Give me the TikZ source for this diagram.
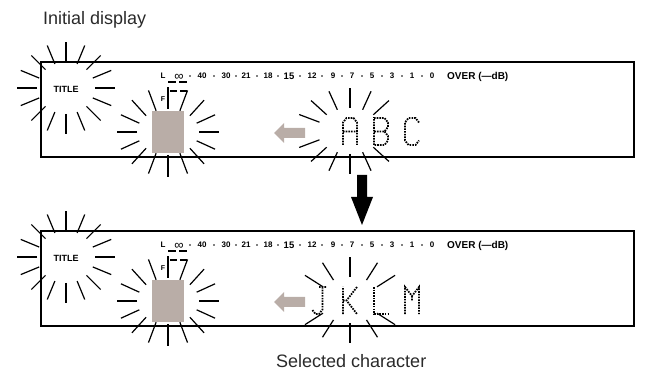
\documentclass[tikz,border=0pt]{standalone}
\usepackage{xcolor}
\usepackage{fontspec}
\setmainfont{Liberation Sans}
\usepackage{tikz}
\definecolor{lcdgrey}{HTML}{B9ADA7}
\definecolor{captiongrey}{HTML}{2A2A2A}

\begin{document}
\begin{tikzpicture}[x=1pt,y=-1pt,
	ray/.style={line width=1.2pt},
	lcdbox/.style={line width=1.5pt},
	dotmatrix/.style={line width=1.8pt,dash pattern=on 1.6pt off 1.1pt},
	scalelbl/.style={font=\bfseries\fontsize{8}{9}\selectfont,inner sep=0pt,anchor=base},
	caption/.style={font=\fontsize{18}{20}\selectfont,text=captiongrey,inner sep=0pt,anchor=base west}]
	 \useasboundingbox (0,0) rectangle (651,374);
	 \node[caption](initial)at(43,25){Initial display};
	 \node[caption](selected)at(276,367){Selected character};
	 % the two display panels
	 \foreach \p/\dy/\angs in {a/0/{45,67.5,90,112.5,135,157.5,-45,-67.5,-90,-112.5,-135,-157.5},
	                          b/169/{35,60,90,120,145,-35,-60,-90,-120,-145}}{
	 \begin{scope}[shift={(0,\dy)}]
	 \draw[lcdbox](41,62)rectangle(634,157);
	 \node[font=\bfseries\fontsize{9}{10}\selectfont,inner sep=0pt](title\p)at(66,89){TITLE};
	 \foreach \a in {0,22.5,...,337.5}
	   \draw[ray]([shift={(\a:29 and 26)}]66,88)--([shift={(\a:49 and 46)}]66,88);
	 % level scale
	 \node[scalelbl](lch\p)at(163,79){L};
	 \node[font=\fontsize{13}{13}\selectfont,inner sep=0pt](inf\p)at(179,77){∞};
	 \foreach \x/\t in {202/40,226/30,246/21,268/18,312/12,333/9,352/7,372/5,392/3,412/1,432/0}
	   \node[scalelbl](db\t\p)at(\x,79){\t};
	 \node[scalelbl,font=\bfseries\fontsize{9.5}{10}\selectfont](db15\p)at(289,79.3){15};
	 \node[scalelbl,font=\bfseries\fontsize{10}{11}\selectfont,anchor=base west](over\p)at(447,79.5){OVER (—dB)};
	 \foreach \x in {190,214,236,257,278,300,322,342,362,382,402,422}
	   \fill(\x,76)circle(.9);
	 \draw[line width=2pt](168,82)--(176,82)(179,82)--(187,82);
	 \draw[line width=2pt](170,91)--(177,91)(180,91)--(187,91);
	 \node[font=\bfseries\fontsize{7}{7}\selectfont,inner sep=0pt](flag\p)at(163,99){F};
	 % cursor block
	 \fill[lcdgrey](152,111)rectangle(184,153);
	 \foreach \a in {0,22.5,...,337.5}
	   \draw[ray]([shift={(\a:31 and 23)}]168,132)--([shift={(\a:51 and 45)}]168,132);
	 \fill[lcdgrey](274,133)--(284,123)--(284,128)--(305,128)--(305,138)--(284,138)--(284,143)--cycle;
	 % selected character
	 \foreach \a in \angs
	   \draw[ray]([shift={(\a:33 and 23)}]350,131)--([shift={(\a:55 and 43)}]350,131);
	 \end{scope}}
	 % characters
	 \begin{scope}[shift={(343,145)},x=3.5pt,y=4.5pt]
	 \draw[dotmatrix](0,0)--(0,5)--(1,6)--(3,6)--(4,5)--(4,0)(0,3)--(4,3);
	 \end{scope}
	 \begin{scope}[shift={(374,145)},x=3.5pt,y=4.5pt]
	 \draw[dotmatrix](0,0)--(0,6)--(3,6)--(4,5)--(4,4)--(3,3)--(0,3)(3,3)--(4,2)--(4,1)--(3,0)--(0,0);
	 \end{scope}
	 \begin{scope}[shift={(405,145)},x=3.5pt,y=4.5pt]
	 \draw[dotmatrix](4,5)--(3,6)--(1,6)--(0,5)--(0,1)--(1,0)--(3,0)--(4,1);
	 \end{scope}
	 \begin{scope}[shift={(312,314)},x=3.5pt,y=4.5pt]
	 \draw[dotmatrix](2,6)--(4,6)(3,6)--(3,1)--(2,0)--(1,0)--(0,1);
	 \end{scope}
	 \begin{scope}[shift={(343,314)},x=3.5pt,y=4.5pt]
	 \draw[dotmatrix](0,0)--(0,6)(4,6)--(1,3)--(4,0)(0,3)--(1,3);
	 \end{scope}
	 \begin{scope}[shift={(374,314)},x=3.5pt,y=4.5pt]
	 \draw[dotmatrix](0,6)--(0,0)--(4,0);
	 \end{scope}
	 \begin{scope}[shift={(405,314)},x=3.5pt,y=4.5pt]
	 \draw[dotmatrix](0,0)--(0,6)--(2,4)--(4,6)--(4,0)(2,4)--(2,3);
	 \end{scope}
	 % step arrow
	 \fill(357,175)--(367,175)--(367,197)--(373,197)--(362,225)--(351,197)--(357,197)--cycle;
	\end{tikzpicture}
\end{document}
